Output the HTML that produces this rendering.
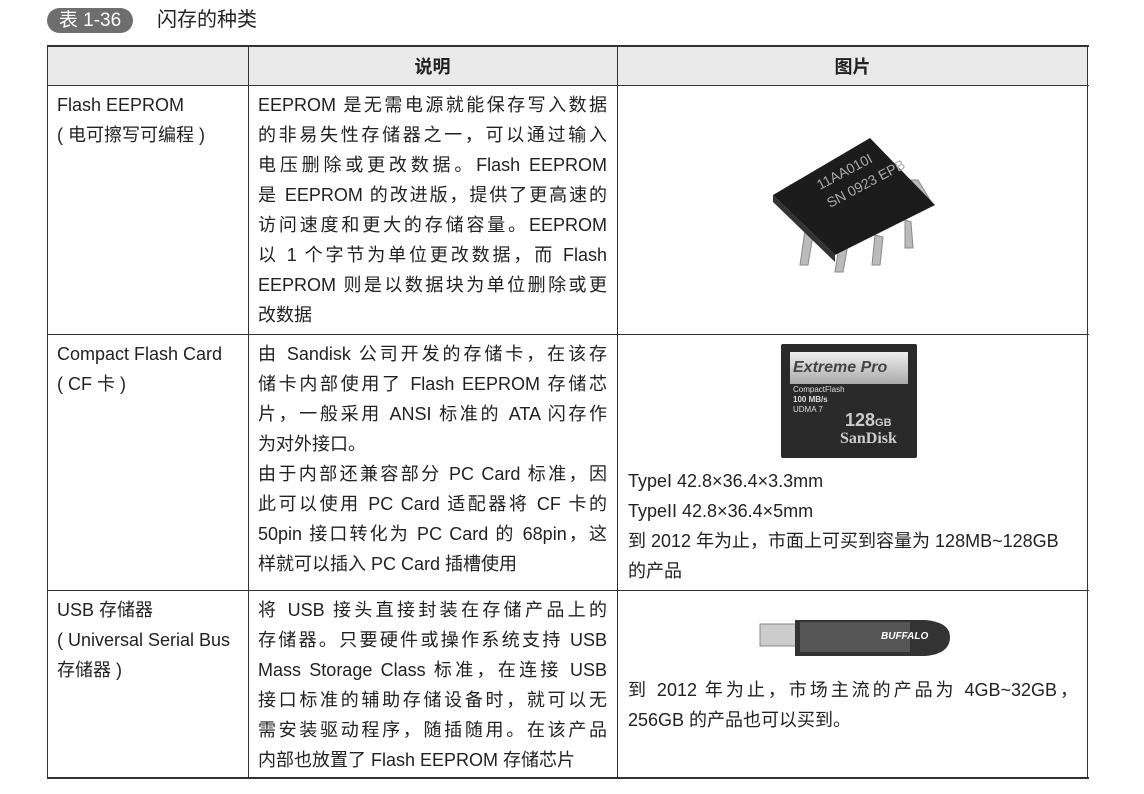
<!DOCTYPE html>
<html><head><meta charset="utf-8"><style>
body{margin:0;background:#fff;width:1144px;height:794px;position:relative;overflow:hidden;font-family:"Liberation Sans","Noto Sans CJK SC",sans-serif;color:#222}
.a{position:absolute}
.l{position:absolute;background:#333}
.t{position:absolute;font-size:18px;line-height:30px;white-space:nowrap}
.j div{text-align:justify;text-align-last:justify;width:349px}
.j div.n{text-align-last:left}
</style></head><body>
<div class="a" style="left:47px;top:8px;width:86px;height:25px;border-radius:13px;background:#6e6e6e;color:#fff;font-size:19px;line-height:25px;text-align:center">表 1-36</div>
<div class="a" style="left:157px;top:6px;font-size:20px;line-height:28px;color:#222">闪存的种类</div>
<div class="a" style="left:47px;top:46px;width:1041px;height:40px;background:#e9e9e9"></div>
<div class="t" style="left:248px;width:369px;top:52px;text-align:center;font-weight:bold">说明</div>
<div class="t" style="left:617px;width:471px;top:52px;text-align:center;font-weight:bold">图片</div>
<!-- grid -->
<div class="l" style="left:47px;top:45px;width:1042px;height:2px"></div>
<div class="l" style="left:47px;top:85px;width:1042px;height:1px"></div>
<div class="l" style="left:47px;top:334px;width:1042px;height:1px"></div>
<div class="l" style="left:47px;top:590px;width:1042px;height:1px"></div>
<div class="l" style="left:47px;top:777px;width:1042px;height:2px"></div>
<div class="l" style="left:47px;top:45px;width:1px;height:734px"></div>
<div class="l" style="left:248px;top:45px;width:1px;height:734px"></div>
<div class="l" style="left:617px;top:45px;width:1px;height:734px"></div>
<div class="l" style="left:1087px;top:45px;width:1px;height:734px"></div>
<!-- col1 -->
<div class="t" style="left:57px;top:90px">Flash EEPROM<br>( 电可擦写可编程 )</div>
<div class="t" style="left:57px;top:339px">Compact Flash Card<br>( CF 卡 )</div>
<div class="t" style="left:57px;top:595px">USB 存储器<br>( Universal Serial Bus<br>存储器 )</div>
<!-- col2 -->
<div class="t j" style="left:258px;top:90px">
<div>EEPROM 是无需电源就能保存写入数据</div><div>的非易失性存储器之一，可以通过输入</div><div>电压删除或更改数据。Flash EEPROM</div><div>是 EEPROM 的改进版，提供了更高速的</div><div>访问速度和更大的存储容量。EEPROM</div><div>以 1 个字节为单位更改数据，而 Flash</div><div>EEPROM 则是以数据块为单位删除或更</div><div class="n">改数据</div></div>
<div class="t j" style="left:258px;top:339px">
<div>由 Sandisk 公司开发的存储卡，在该存</div><div>储卡内部使用了 Flash EEPROM 存储芯</div><div>片，一般采用 ANSI 标准的 ATA 闪存作</div><div class="n">为对外接口。</div><div>由于内部还兼容部分 PC Card 标准，因</div><div>此可以使用 PC Card 适配器将 CF 卡的</div><div>50pin 接口转化为 PC Card 的 68pin，这</div><div class="n">样就可以插入 PC Card 插槽使用</div></div>
<div class="t j" style="left:258px;top:595px">
<div>将 USB 接头直接封装在存储产品上的</div><div>存储器。只要硬件或操作系统支持 USB</div><div>Mass Storage Class 标准，在连接 USB</div><div>接口标准的辅助存储设备时，就可以无</div><div>需安装驱动程序，随插随用。在该产品</div><div class="n">内部也放置了 Flash EEPROM 存储芯片</div></div>
<!-- col3 -->
<div class="t" style="left:628px;top:466px">TypeI 42.8×36.4×3.3mm<br>TypeII 42.8×36.4×5mm<br>到 2012 年为止，市面上可买到容量为 128MB~128GB<br>的产品</div>
<div class="t" style="left:628px;top:675px;width:450px;text-align:justify;text-align-last:justify">到 2012 年为止，市场主流的产品为 4GB~32GB，</div>
<div class="t" style="left:628px;top:705px">256GB 的产品也可以买到。</div>
<!-- chip -->
<svg class="a" style="left:765px;top:130px" width="175" height="150">
<g fill="#bbb" stroke="#888"><path d="M40 100 l-5 35 h8 l5-30z"/><path d="M75 110 l-5 32 h8 l5-28z"/><path d="M110 105 l-3 30 h8 l3-28z"/><path d="M140 90 l0 28 h8 l-2-26z"/>
<path d="M25 55 l-10 20 h8 l10-16z"/><path d="M145 50 l15 25 h8 l-15-25z"/></g>
<path d="M8 65 L105 8 L170 75 L70 125 Z" fill="#1c1c1c"/>
<path d="M8 65 L70 125 L70 132 L8 72Z" fill="#333"/>
<text x="55" y="60" fill="#aaa" font-size="14" transform="rotate(-28 55 60)" font-family="Liberation Sans">11AA010I</text>
<text x="65" y="78" fill="#aaa" font-size="14" transform="rotate(-28 65 78)" font-family="Liberation Sans">SN 0923 EPB</text>
</svg>
<!-- CF card -->
<div class="a" style="left:781px;top:344px;width:136px;height:114px;background:#2a2a2a;border-radius:2px"></div>
<div class="a" style="left:790px;top:352px;width:118px;height:32px;background:linear-gradient(#eee,#aaa)"></div>
<div class="a" style="left:793px;top:352px;font-size:16px;font-style:italic;font-weight:bold;color:#444;line-height:32px">Extreme Pro</div>
<div class="a" style="left:793px;top:385px;font-size:8px;line-height:10px;color:#ddd">CompactFlash<br><b>100 MB/s</b><br>UDMA 7</div>
<div class="a" style="left:845px;top:410px;font-size:18px;font-weight:bold;color:#ccc">128<span style="font-size:11px">GB</span></div>
<div class="a" style="left:840px;top:430px;font-size:16px;font-weight:bold;color:#ccc;font-family:'Liberation Serif',serif">SanDisk</div>
<!-- USB -->
<svg class="a" style="left:755px;top:612px" width="200" height="50">
<rect x="5" y="12" width="40" height="22" fill="#ccc" stroke="#888"/>
<path d="M40 8 H170 Q195 10 195 25 Q195 42 170 44 H40Z" fill="#333"/>
<rect x="45" y="10" width="110" height="30" fill="#555"/>
<text x="126" y="27" fill="#fff" font-size="10" font-weight="bold" font-style="italic" font-family="Liberation Sans">BUFFALO</text>
</svg>
</body></html>
